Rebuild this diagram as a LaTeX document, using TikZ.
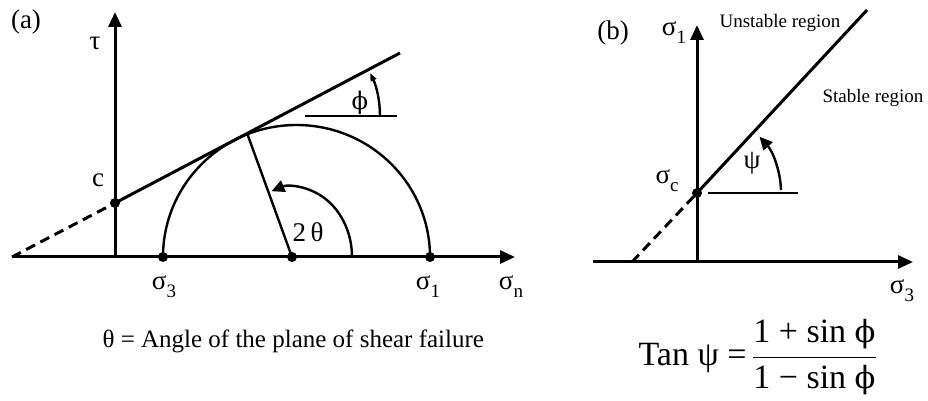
\documentclass[tikz,border=0pt]{standalone}
\usepackage{fix-cm}
\usepackage{fontspec}
\setmainfont{Liberation Serif}
\newfontfamily\phifont{DejaVu Serif}
\usetikzlibrary{arrows.meta}
\newcommand{\sgm}[1]{σ\raisebox{-0.3em}{\fontsize{19}{19}\selectfont #1}}
\newcommand{\fii}{{\phifont\fontsize{0.9em}{1em}\selectfont ϕ}}

\begin{document}
\begin{tikzpicture}[x=1pt,y=1pt,
  axis/.style={line width=3pt,-{Triangle[length=15pt,width=13pt]}},
  thk/.style={line width=3pt},
  arcline/.style={line width=2.4pt},
  thin/.style={line width=1.3pt},
  dot/.style={circle,fill,inner sep=0pt,minimum size=10pt},
  lbl/.style={font=\fontsize{27}{30}\selectfont},
  reg/.style={font=\fontsize{19}{22}\selectfont}]
  \useasboundingbox (0,0) rectangle (928,401);

  % (a) Mohr circle
  \coordinate (xl) at (12,144);
  \coordinate (xr) at (515,144);
  \coordinate (o) at (115,144);
  \coordinate (ytop) at (115,389);
  \coordinate (env) at (400,348);
  \coordinate (tp) at (247,268);
  \coordinate (fa) at (305,285);
  \coordinate (fb) at (397,285);

  \node[dot] (c) at (115,198) {};
  \node[dot] (s3) at (163,144) {};
  \node[dot] (m) at (292,144) {};
  \node[dot] (s1) at (430,144) {};

  \draw[axis] (xl) -- (xr);
  \draw[axis] (o) -- (ytop);
  \draw[thk, dash pattern=on 10pt off 6pt] (xl) -- (c.center);
  \draw[thk] (c.center) -- (env);
  \draw[arcline] (s3.center) arc[start angle=180, end angle=0, x radius=133.5, y radius=132];
  \draw[arcline] (m.center) -- (tp);
  \draw[arcline, -{Triangle[length=13pt,width=12pt]}] ([xshift=60pt]m.center)
    arc[start angle=0, end angle=110, x radius=60, y radius=70];
  \draw[thin] (fa) -- (fb);
  \draw[arcline, -{Triangle[length=8pt,width=6pt]}] (380,285) arc[start angle=0, end angle=26, radius=98];

  \node[lbl] (la) at (26,379) {(a)};
  \node[lbl] (ltau) at (95,358) {τ};
  \node[lbl] (lc) at (98,221) {c};
  \node[lbl] (ls3) at (164,114) {\sgm{3}};
  \node[lbl] (ls1) at (428,114) {\sgm{1}};
  \node[lbl] (lsn) at (511,114) {\sgm{n}};
  \node[lbl] (l2t) at (308,169) {2\,θ};
  \node[lbl] (lphi) at (360,298) {\fii};
  \node[font=\fontsize{25}{30}\selectfont, anchor=base west] (cap) at (99,53)
    {θ = Angle of the plane of shear failure};

  % (b) principal stresses
  \coordinate (bxl) at (593,139);
  \coordinate (bxr) at (913,139);
  \coordinate (bo) at (697,139);
  \coordinate (bytop) at (697,376);
  \coordinate (bcut) at (632,139);
  \coordinate (bend) at (867,391);
  \coordinate (pa) at (708,208);
  \coordinate (pb) at (798,208);

  \node[dot] (sc) at (697,208) {};

  \draw[axis] (bxl) -- (bxr);
  \draw[axis] (bo) -- (bytop);
  \draw[thk, dash pattern=on 10pt off 6pt] (bcut) -- (sc.center);
  \draw[thk] (sc.center) -- (bend);
  \draw[thin] (pa) -- (pb);
  \draw[arcline, -{Triangle[length=13pt,width=12pt]}] (781,211) arc[start angle=2, end angle=42, radius=84];

  \node[lbl] (lb) at (613,368) {(b)};
  \node[lbl] (lbs1) at (674,368) {\sgm{1}};
  \node[reg] (lun) at (780,378) {Unstable region};
  \node[reg] (lst) at (873,303) {Stable region};
  \node[lbl] (lsc) at (667,220) {\sgm{c}};
  \node[lbl] (lpsi) at (752,238) {ψ};
  \node[lbl] (lbs3) at (902,110) {\sgm{3}};
  \node[font=\fontsize{34}{40}\selectfont, anchor=west] (frm) at (635,44)
    {$\mbox{Tan ψ =}\,\displaystyle\frac{\mbox{1 + sin \fii}}{\mbox{1 − sin \fii}}$};
\end{tikzpicture}
\end{document}
